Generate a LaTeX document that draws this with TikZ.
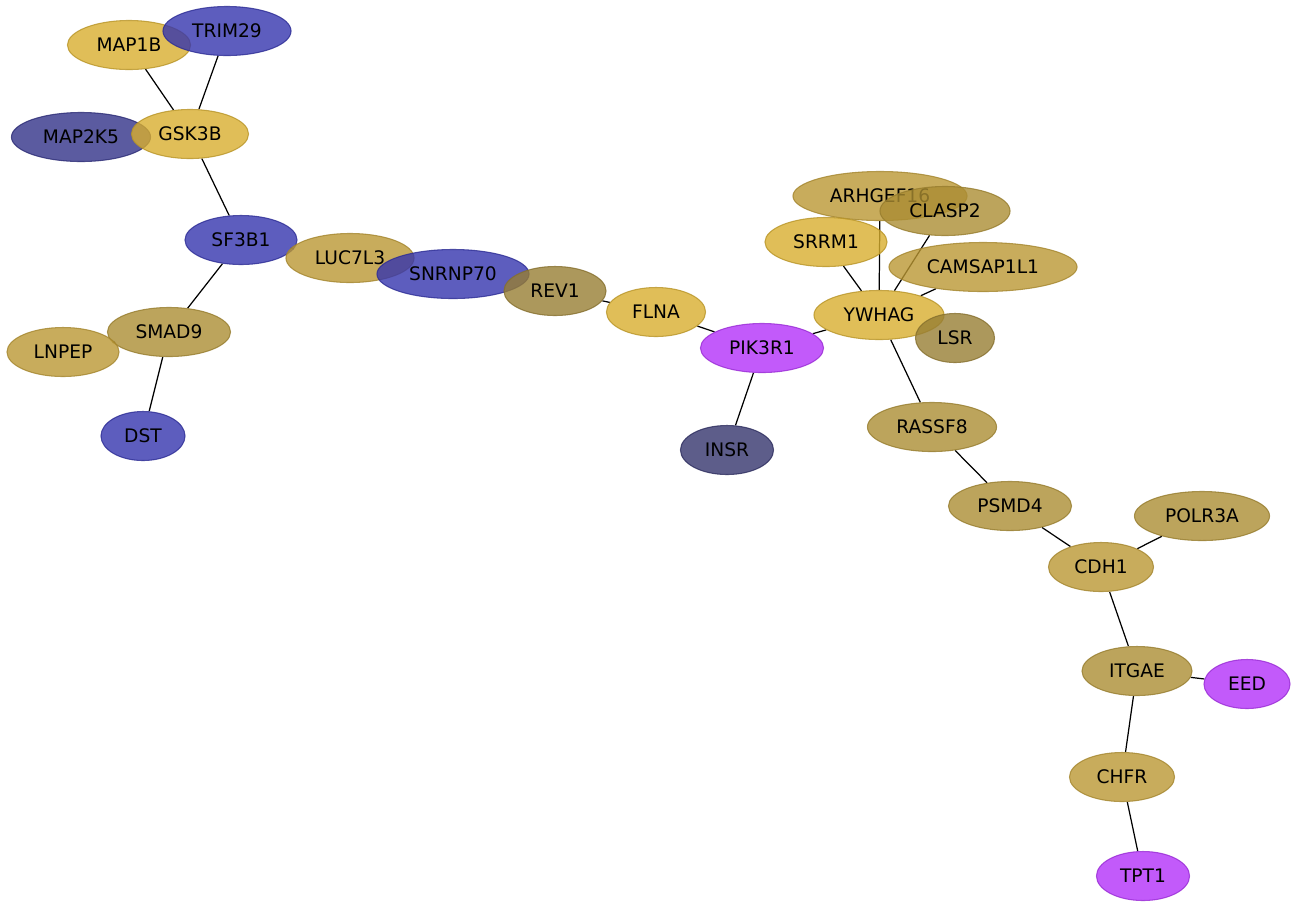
\documentclass[tikz,border=0pt]{standalone}
\usepackage{fontspec}
\setmainfont{DejaVu Sans}
\usetikzlibrary{shapes.geometric, backgrounds}

\definecolor{gold}{RGB}{216,174,46}
\definecolor{tan}{RGB}{186,151,51}
\definecolor{khaki}{RGB}{171,141,51}
\definecolor{olive}{RGB}{151,126,51}
\definecolor{blue}{RGB}{52,52,174}
\definecolor{navy}{RGB}{50,50,136}
\definecolor{slate}{RGB}{52,52,109}
\definecolor{violet}{RGB}{179,49,249}

\tikzset{
  gene/.style={ellipse, inner sep=0pt, minimum height=0.49cm, fill opacity=0.8, draw opacity=0.8,
    text opacity=1, line width=0.3pt, font=\fontsize{5.3pt}{6pt}\selectfont},
  goldnode/.style={gene, fill=gold, draw=gold!85!black},
  tannode/.style={gene, fill=tan, draw=tan!88!black},
  khakinode/.style={gene, fill=khaki, draw=khaki!88!black},
  olivenode/.style={gene, fill=olive, draw=olive!88!black},
  bluenode/.style={gene, fill=blue, draw=blue!85!black},
  navynode/.style={gene, fill=navy, draw=navy!85!black},
  slatenode/.style={gene, fill=slate, draw=slate!85!black},
  violetnode/.style={gene, fill=violet, draw=violet!85!black},
  link/.style={draw=black, line width=0.35pt}
}

\begin{document}
\begin{tikzpicture}[x=0.01cm, y=-0.01cm]
            \useasboundingbox (0,0) rectangle (1297,908);
            \node[goldnode, minimum width=1.23cm] (MAP1B) at (129,45) {MAP1B};
            \node[bluenode, minimum width=1.28cm] (TRIM29) at (227,31) {TRIM29};
            \node[navynode, minimum width=1.39cm] (MAP2K5) at (81,137) {MAP2K5};
            \node[goldnode, minimum width=1.17cm] (GSK3B) at (190,134) {GSK3B};
            \node[bluenode, minimum width=1.12cm] (SF3B1) at (241,240) {SF3B1};
            \node[tannode, minimum width=1.28cm] (LUC7L3) at (350,258) {LUC7L3};
            \node[bluenode, minimum width=1.52cm] (SNRNP70) at (453,274) {SNRNP70};
            \node[olivenode, minimum width=1.02cm] (REV1) at (555,291) {REV1};
            \node[goldnode, minimum width=0.99cm] (FLNA) at (656,312) {FLNA};
            \node[violetnode, minimum width=1.23cm] (PIK3R1) at (762,348) {PIK3R1};
            \node[slatenode, minimum width=0.93cm] (INSR) at (727,450) {INSR};
            \node[tannode, minimum width=1.74cm] (ARHGEF16) at (880,196) {ARHGEF16};
            \node[khakinode, minimum width=1.30cm] (CLASP2) at (945,211) {CLASP2};
            \node[goldnode, minimum width=1.22cm] (SRRM1) at (826,242) {SRRM1};
            \node[tannode, minimum width=1.88cm] (CAMSAP1L1) at (983,267) {CAMSAP1L1};
            \node[goldnode, minimum width=1.30cm] (YWHAG) at (879,315) {YWHAG};
            \node[olivenode, minimum width=0.79cm] (LSR) at (955,338) {LSR};
            \node[khakinode, minimum width=1.29cm] (RASSF8) at (932,427) {RASSF8};
            \node[khakinode, minimum width=1.23cm] (PSMD4) at (1010,506) {PSMD4};
            \node[khakinode, minimum width=1.35cm] (POLR3A) at (1202,516) {POLR3A};
            \node[tannode, minimum width=1.05cm] (CDH1) at (1101,567) {CDH1};
            \node[khakinode, minimum width=1.10cm] (ITGAE) at (1137,671) {ITGAE};
            \node[violetnode, minimum width=0.86cm] (EED) at (1247,684) {EED};
            \node[tannode, minimum width=1.05cm] (CHFR) at (1122,777) {CHFR};
            \node[violetnode, minimum width=0.93cm] (TPT1) at (1143,876) {TPT1};
            \node[khakinode, minimum width=1.23cm] (SMAD9) at (169,332) {SMAD9};
            \node[tannode, minimum width=1.12cm] (LNPEP) at (63,352) {LNPEP};
            \node[bluenode, minimum width=0.84cm] (DST) at (143,436) {DST};
            \begin{scope}[on background layer]
            \draw[link] (MAP1B) -- (GSK3B);
            \draw[link] (TRIM29) -- (GSK3B);
            \draw[link] (GSK3B) -- (SF3B1);
            \draw[link] (SF3B1) -- (SMAD9);
            \draw[link] (SF3B1) -- (LUC7L3);
            \draw[link] (REV1) -- (FLNA);
            \draw[link] (FLNA) -- (PIK3R1);
            \draw[link] (PIK3R1) -- (INSR);
            \draw[link] (PIK3R1) -- (YWHAG);
            \draw[link] (YWHAG) -- (SRRM1);
            \draw[link] (YWHAG) -- (ARHGEF16);
            \draw[link] (YWHAG) -- (CLASP2);
            \draw[link] (YWHAG) -- (CAMSAP1L1);
            \draw[link] (YWHAG) -- (RASSF8);
            \draw[link] (RASSF8) -- (PSMD4);
            \draw[link] (PSMD4) -- (CDH1);
            \draw[link] (CDH1) -- (POLR3A);
            \draw[link] (CDH1) -- (ITGAE);
            \draw[link] (ITGAE) -- (EED);
            \draw[link] (ITGAE) -- (CHFR);
            \draw[link] (CHFR) -- (TPT1);
            \draw[link] (SMAD9) -- (LNPEP);
            \draw[link] (SMAD9) -- (DST);
            \end{scope}
        \end{tikzpicture}
\end{document}
